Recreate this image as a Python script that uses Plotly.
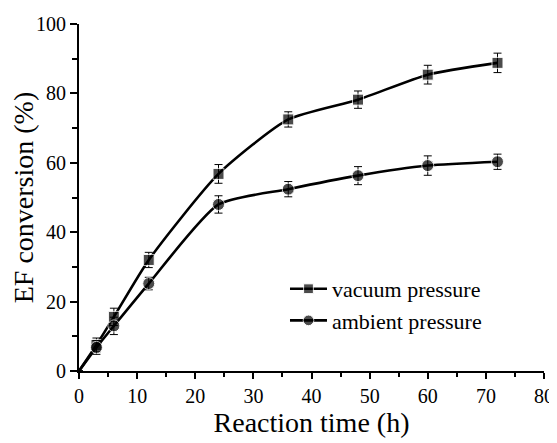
import plotly.graph_objects as go

times = [3, 6, 12, 24, 36, 48, 60, 72]
vacuum = [7.5, 15.6, 32.0, 56.8, 72.5, 78.2, 85.4, 88.8]
vacuum_err = [2.0, 2.5, 2.2, 2.7, 2.2, 2.5, 2.7, 2.8]
ambient = [6.8, 13.0, 25.2, 48.0, 52.4, 56.3, 59.2, 60.3]
ambient_err = [2.0, 2.5, 1.8, 2.5, 2.2, 2.6, 2.8, 2.2]

series = [
    ("vacuum pressure", vacuum, vacuum_err, "square", 11),
    ("ambient pressure", ambient, ambient_err, "circle", 12),
]

fig = go.Figure()
for name, vals, errs, sym, ms in series:
    fig.add_trace(go.Scatter(
        x=[0] + times, y=[0] + vals,
        mode="lines+markers", name=name,
        line=dict(color="black", width=2.6, shape="spline", smoothing=0.6),
        marker=dict(symbol=sym, size=[0] + [ms] * len(vals), color="black"),
        error_y=dict(type="data", array=[0] + errs, visible=True,
                     color="black", thickness=1, width=4),
        cliponaxis=False,
    ))

font_family = "Liberation Serif, Times New Roman, serif"
# the page body adds an 8px offset, so the figure is 8px smaller on each axis
fig.update_layout(
    width=549, height=435,
    margin=dict(l=71, r=13, t=16, b=72),
    paper_bgcolor="white", plot_bgcolor="white",
    font=dict(family=font_family, color="black", size=20),
    showlegend=True,
    legend=dict(x=0.443, y=0.297, xanchor="left", yanchor="top",
                bgcolor="rgba(0,0,0,0)", font=dict(size=22, family=font_family),
                itemwidth=37, tracegroupgap=0),
    xaxis=dict(range=[0, 80], dtick=10, tick0=0, showgrid=False, zeroline=False,
               automargin=False,
               showline=True, linecolor="black", linewidth=2,
               ticks="outside", ticklen=6, tickwidth=2, tickcolor="black",
               minor=dict(dtick=5, ticks="outside", ticklen=4, tickwidth=2, tickcolor="black"),
               tickfont=dict(size=20),
               title=dict(text="Reaction time (h)", font=dict(size=28), standoff=6)),
    yaxis=dict(range=[0, 100], dtick=20, tick0=0, showgrid=False, zeroline=False,
               automargin=False,
               showline=True, linecolor="black", linewidth=2,
               ticks="outside", ticklen=7, tickwidth=2, tickcolor="black",
               minor=dict(dtick=10, ticks="outside", ticklen=5, tickwidth=2, tickcolor="black"),
               tickfont=dict(size=20),
               title=dict(text="EF conversion (%)", font=dict(size=28), standoff=4)),
)

fig.write_html("out.html")
